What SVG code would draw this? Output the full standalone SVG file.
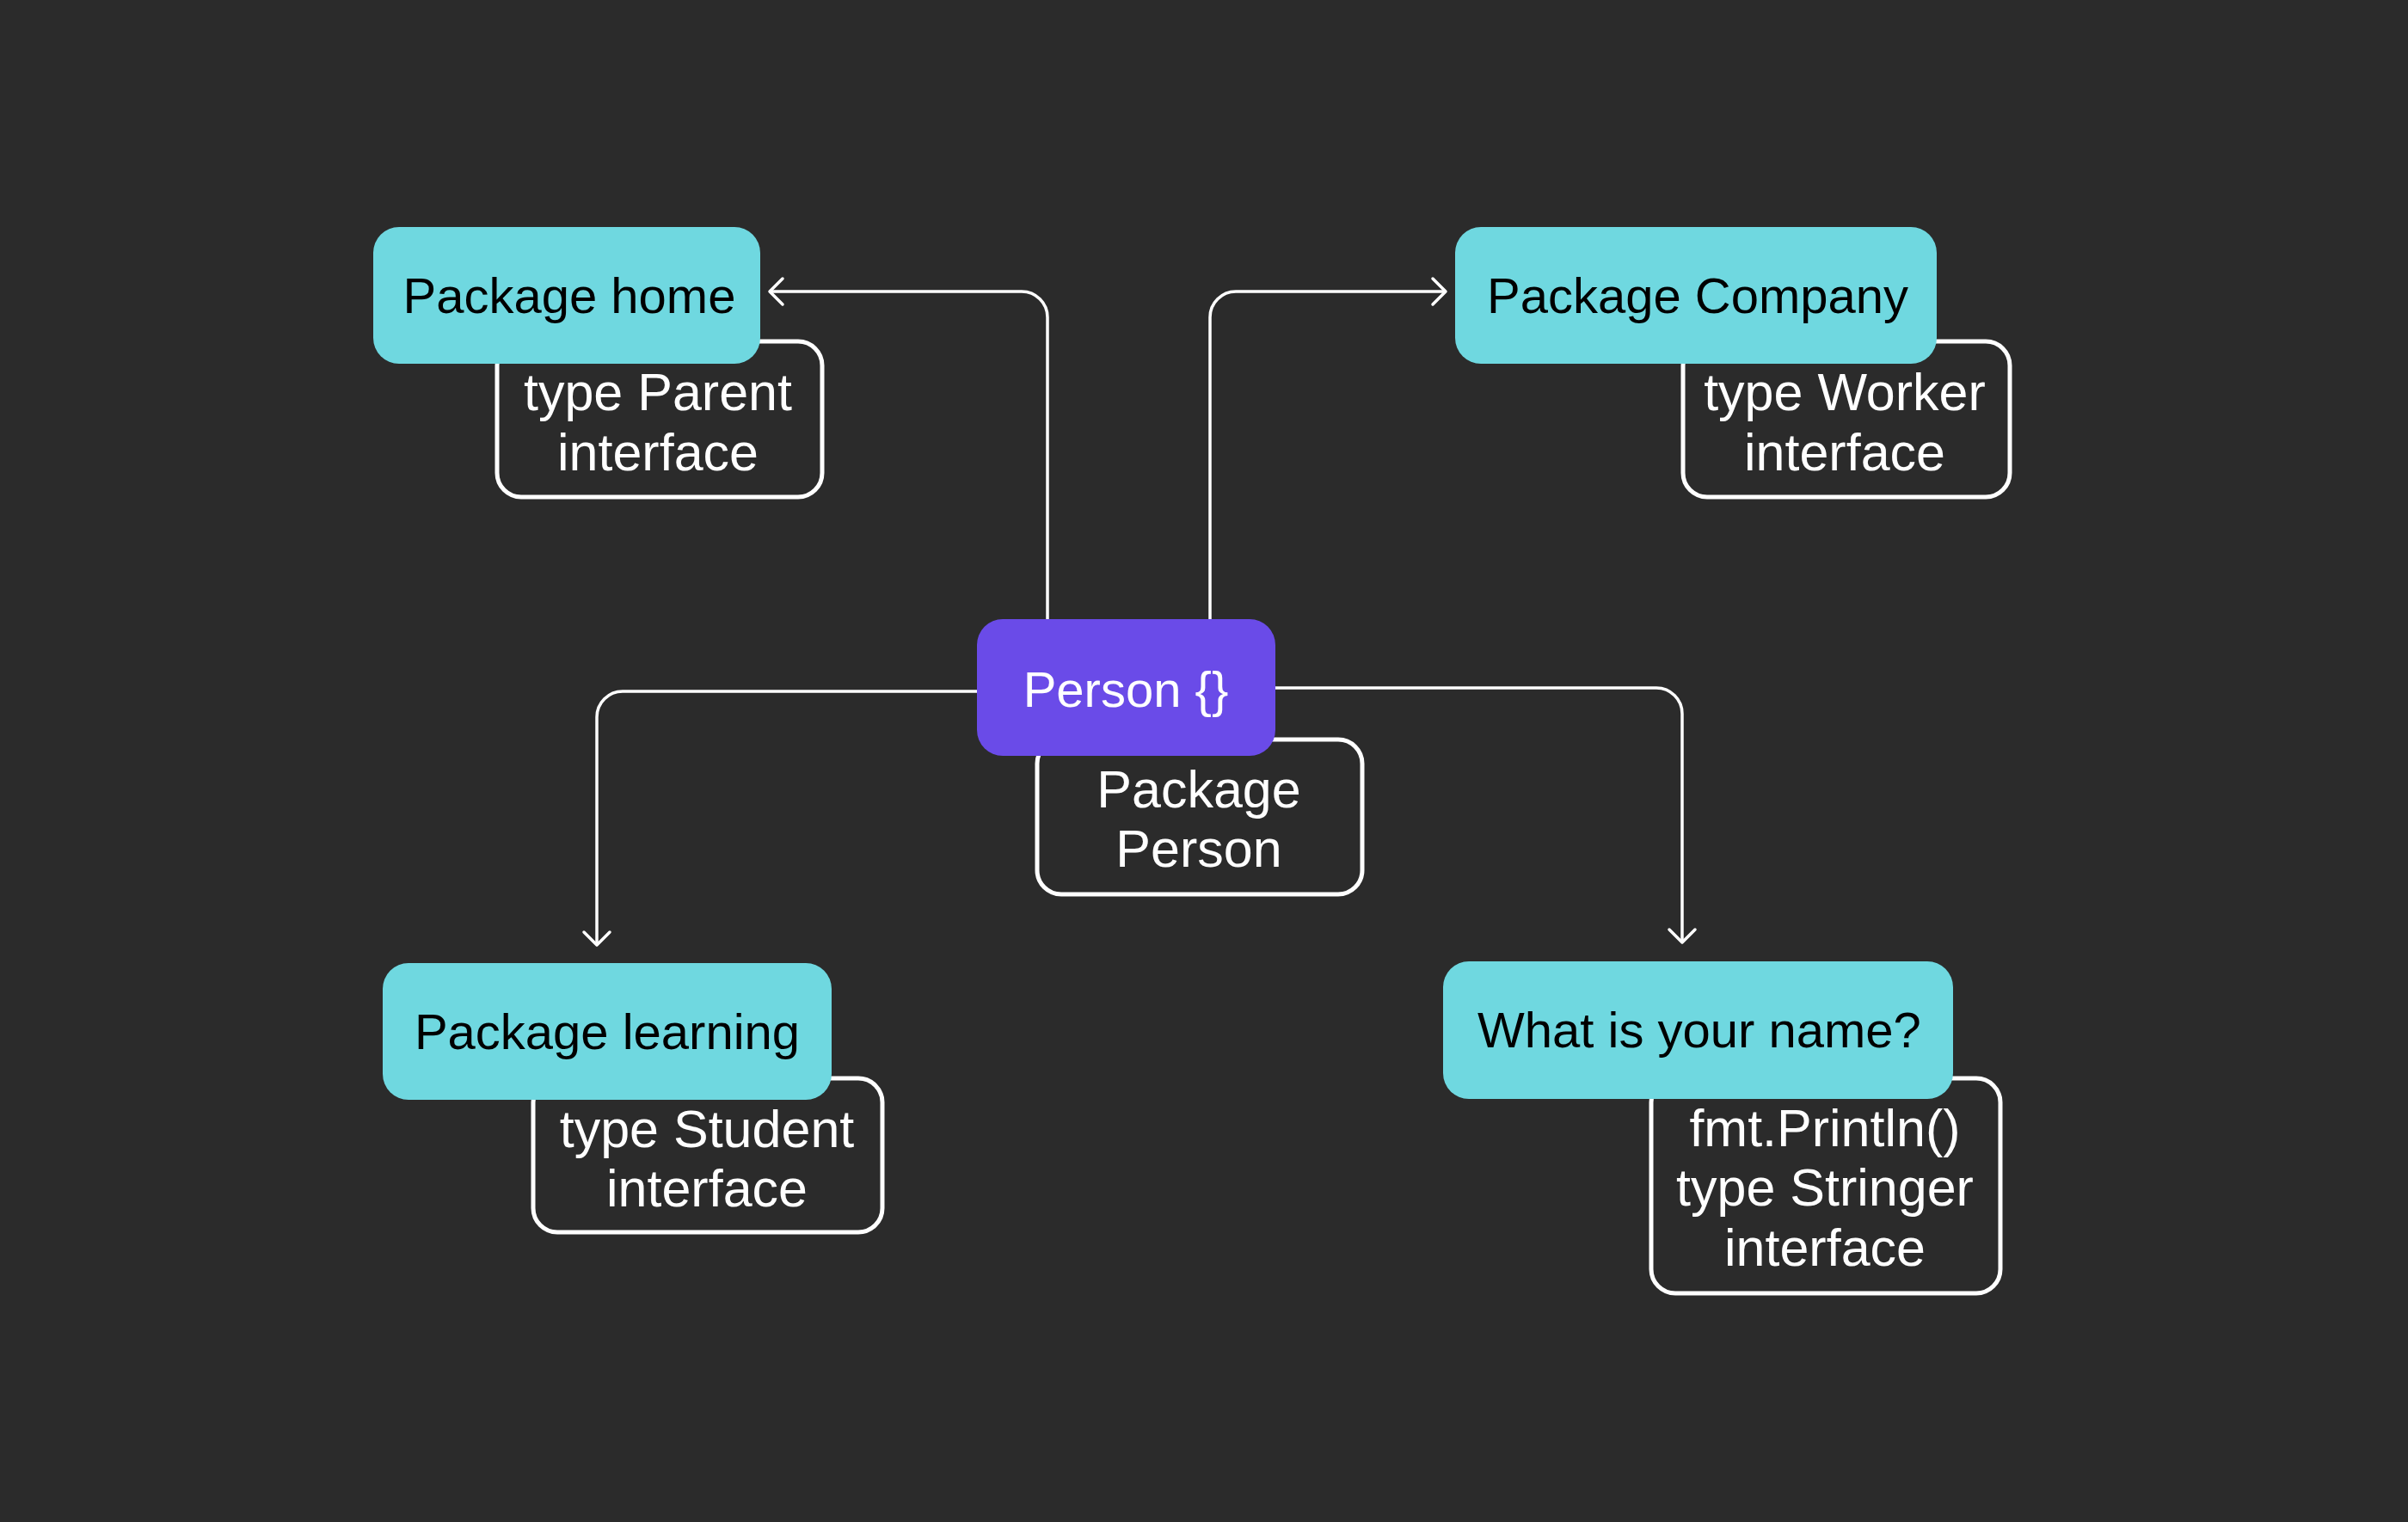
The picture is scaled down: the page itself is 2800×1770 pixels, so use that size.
<svg xmlns="http://www.w3.org/2000/svg" width="2800" height="1770" viewBox="0 0 2800 1770">
<style>
.main{fill:#6fd8e0}
.center{fill:#6a4be8}
.sub{fill:#2b2b2b;stroke:#ffffff;stroke-width:5}
.t{font-family:"Liberation Sans",Arial,sans-serif;font-size:58px;text-anchor:middle}
.dark{fill:#000000}
.light{fill:#ffffff}
.s{font-family:"Liberation Sans",Arial,sans-serif;font-size:61px;text-anchor:middle;fill:#ffffff}
.conn{fill:none;stroke:#ffffff;stroke-width:3.5}
</style>
<defs>
<marker id="arr" markerUnits="userSpaceOnUse" markerWidth="40" markerHeight="40" viewBox="-20 -20 40 40" refX="0" refY="0" orient="auto" overflow="visible">
<path d="M-15,-15 L0,0 L-15,15" fill="none" stroke="#ffffff" stroke-width="3.5" stroke-linecap="round" stroke-linejoin="round"/>
</marker>
</defs>
<rect x="0" y="0" width="2800" height="1770" fill="#2b2b2b"/>
<g id="connectors">
<path class="conn" d="M1218,720 V369 A30,30 0 0 0 1188,339 H895" marker-end="url(#arr)"/>
<path class="conn" d="M1407,720 V369 A30,30 0 0 1 1437,339 H1681" marker-end="url(#arr)"/>
<path class="conn" d="M1136,804 H724 A30,30 0 0 0 694,834 V1099" marker-end="url(#arr)"/>
<path class="conn" d="M1483,800 H1926 A30,30 0 0 1 1956,830 V1096" marker-end="url(#arr)"/>
</g>
<g id="node-home">
<rect class="sub" x="578" y="397" width="378" height="181" rx="28"/>
<rect class="main" x="434" y="264" width="450" height="159" rx="30"/>
<text class="t dark" x="662" y="364">Package home</text>
<text class="s" x="765" y="477">type Parent</text>
<text class="s" x="765" y="547">interface</text>
</g>
<g id="node-company">
<rect class="sub" x="1957" y="397" width="380" height="181" rx="28"/>
<rect class="main" x="1692" y="264" width="560" height="159" rx="30"/>
<text class="t dark" x="1974" y="364">Package Company</text>
<text class="s" x="2145" y="477">type Worker</text>
<text class="s" x="2145" y="547">interface</text>
</g>
<g id="node-person">
<rect class="sub" x="1206" y="860" width="378" height="180" rx="28"/>
<rect class="center" x="1136" y="720" width="347" height="159" rx="30"/>
<text class="t light" x="1309" y="822">Person {}</text>
<text class="s" x="1394" y="939">Package</text>
<text class="s" x="1394" y="1008">Person</text>
</g>
<g id="node-learning">
<rect class="sub" x="620" y="1254" width="406" height="179" rx="28"/>
<rect class="main" x="445" y="1120" width="522" height="159" rx="30"/>
<text class="t dark" x="706" y="1220">Package learning</text>
<text class="s" x="822" y="1334">type Student</text>
<text class="s" x="822" y="1403">interface</text>
</g>
<g id="node-name">
<rect class="sub" x="1920" y="1254" width="406" height="250" rx="28"/>
<rect class="main" x="1678" y="1118" width="593" height="160" rx="30"/>
<text class="t dark" x="1976" y="1218">What is your name?</text>
<text class="s" x="2122" y="1333">fmt.Println()</text>
<text class="s" x="2122" y="1402">type Stringer</text>
<text class="s" x="2122" y="1472">interface</text>
</g>
</svg>
